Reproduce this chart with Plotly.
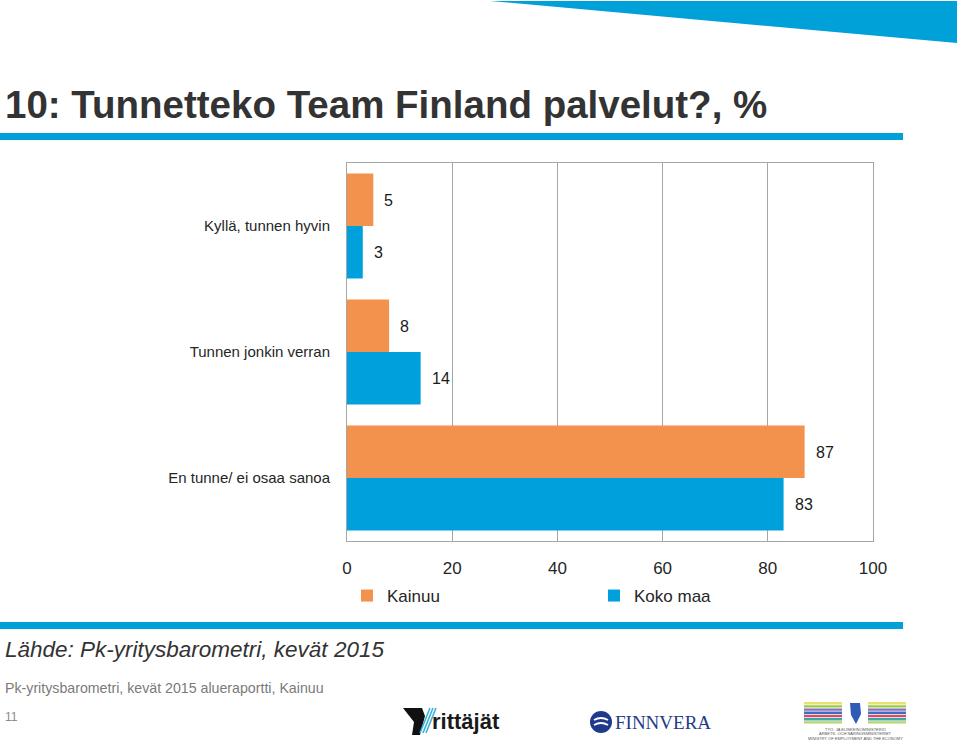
import plotly.graph_objects as go

# ---- data ----
categories = ["Kyllä, tunnen hyvin", "Tunnen jonkin verran", "En tunne/ ei osaa sanoa"]
kainuu = [5, 8, 87]
koko_maa = [3, 14, 83]
series_names = ["Kainuu", "Koko maa"]
x_ticks = [0, 20, 40, 60, 80, 100]

title_text = "10: Tunnetteko Team Finland palvelut?, %"
source_text = "Lähde: Pk-yritysbarometri, kevät 2015"
footer_text = "Pk-yritysbarometri, kevät 2015 alueraportti, Kainuu"
page_no = "11"

# ---- layout geometry ----
W, H = 960, 747
L, R, T, B = 347, 87, 163, 206
PW, PH = W - L - R, H - T - B

ORANGE = "#F2924C"
BLUE = "#00A0DC"
GRID = "#A6A6A6"
FONT = "Liberation Sans, Arial, sans-serif"


def px(x):
    return (x - L) / PW


def py(y):
    return (T + PH - y) / PH


fig = go.Figure()
fig.add_trace(go.Bar(y=categories, x=kainuu, orientation="h", name=series_names[0],
                     marker=dict(color=ORANGE, line=dict(width=0))))
fig.add_trace(go.Bar(y=categories, x=koko_maa, orientation="h", name=series_names[1],
                     marker=dict(color=BLUE, line=dict(width=0))))

annotations = []
# data labels
for vals, shift in ((kainuu, 26), (koko_maa, -26)):
    for c, v in zip(categories, vals):
        annotations.append(dict(x=v, y=c, xref="x", yref="y", text=str(v), showarrow=False,
                                xanchor="left", yanchor="middle", xshift=9, yshift=shift,
                                font=dict(family=FONT, size=16, color="#1a1a1a")))

# title
annotations.append(dict(xref="paper", yref="paper", x=px(3), y=py(105), text=f"<b>{title_text}</b>",
                        showarrow=False, xanchor="left", yanchor="middle",
                        font=dict(family=FONT, size=38.5, color="#333333")))
# source
annotations.append(dict(xref="paper", yref="paper", x=px(3), y=py(649), text=f"<i>{source_text}</i>",
                        showarrow=False, xanchor="left", yanchor="middle",
                        font=dict(family=FONT, size=22.5, color="#333333")))
annotations.append(dict(xref="paper", yref="paper", x=px(3), y=py(688), text=footer_text,
                        showarrow=False, xanchor="left", yanchor="middle",
                        font=dict(family=FONT, size=14.2, color="#7a7a7a")))
annotations.append(dict(xref="paper", yref="paper", x=px(3), y=py(717), text=page_no,
                        showarrow=False, xanchor="left", yanchor="middle",
                        font=dict(family=FONT, size=12, color="#8a8a8a")))

# logo texts
annotations.append(dict(xref="paper", yref="paper", x=px(430), y=py(721), text="<b>rittäjät</b>",
                        showarrow=False, xanchor="left", yanchor="middle",
                        font=dict(family=FONT, size=22, color="#1a1a1a")))
annotations.append(dict(xref="paper", yref="paper", x=px(613), y=py(722), text="FINNVERA",
                        showarrow=False, xanchor="left", yanchor="middle",
                        font=dict(family="Liberation Serif, Times New Roman, serif", size=19, color="#1F3A8A")))
for i, t in enumerate(["TYÖ- JA ELINKEINOMINISTERIÖ", "ARBETS- OCH NÄRINGSMINISTERIET",
                       "MINISTRY OF EMPLOYMENT AND THE ECONOMY"]):
    annotations.append(dict(xref="paper", yref="paper", x=px(855), y=py(729 + i * 4.5), text=t,
                            showarrow=False, xanchor="center", yanchor="middle",
                            font=dict(family=FONT, size=4, color="#555555")))

shapes = []


def rect(x0, y0, x1, y1, color):
    shapes.append(dict(type="rect", xref="paper", yref="paper", x0=px(x0), x1=px(x1),
                       y0=py(y0), y1=py(y1), fillcolor=color, line=dict(width=0), layer="above"))


# top-right triangle
shapes.append(dict(type="path", xref="paper", yref="paper",
                   path=f"M{px(490)},{py(1)} L{px(957)},{py(1)} L{px(957)},{py(43)} Z",
                   fillcolor="#00A0D8", line=dict(width=0)))
# horizontal rules
rect(0, 133, 903, 140, "#00A0D8")
rect(0, 622, 903, 629, "#00A0D8")

# Yrittäjät logo mark
shapes.append(dict(type="path", xref="paper", yref="paper",
                   path=(f"M{px(403)},{py(708)} L{px(422)},{py(708)} L{px(425)},{py(716)} "
                         f"L{px(420)},{py(735)} L{px(412)},{py(735)} L{px(414)},{py(722)} Z"),
                   fillcolor="#111111", line=dict(width=0)))
for k in range(3):
    shapes.append(dict(type="line", xref="paper", yref="paper",
                       x0=px(420 + k * 3), y0=py(733), x1=px(430 + k * 3), y1=py(708),
                       line=dict(color="#3BB3D6", width=1.6)))

# Finnvera circle
shapes.append(dict(type="circle", xref="paper", yref="paper", x0=px(590), x1=px(612),
                   y0=py(711), y1=py(733), fillcolor="#1F3A8A", line=dict(width=0)))
shapes.append(dict(type="path", xref="paper", yref="paper",
                   path=f"M{px(594)},{py(720)} Q{px(601)},{py(716)} {px(608)},{py(720)}",
                   line=dict(color="white", width=2)))
shapes.append(dict(type="path", xref="paper", yref="paper",
                   path=f"M{px(594)},{py(725)} Q{px(601)},{py(721)} {px(608)},{py(725)}",
                   line=dict(color="white", width=2)))

# ministry stripes
stripe_cols = ["#E8E070", "#9BC94B", "#8A6FB5", "#3A6FC4", "#D64B6B", "#3AA9A0", "#B8D36A"]
for i, c in enumerate(stripe_cols):
    y = 702 + i * 3.2
    rect(804, y, 842, y + 2.4, c)
    rect(868, y, 906, y + 2.4, c)
shapes.append(dict(type="path", xref="paper", yref="paper",
                   path=(f"M{px(850)},{py(703)} L{px(860)},{py(703)} L{px(861)},{py(714)} "
                         f"L{px(856)},{py(724)} L{px(851)},{py(715)} Z"),
                   fillcolor="#2E5BB8", line=dict(width=0)))

fig.update_layout(
    width=W, height=H,
    margin=dict(l=L, r=R, t=T, b=B),
    paper_bgcolor="white", plot_bgcolor="white",
    barmode="group", bargap=0.167, bargroupgap=0,
    font=dict(family=FONT, color="#262626"),
    showlegend=True,
    legend=dict(orientation="h", x=0.0, xanchor="left", y=py(596), yanchor="middle",
                entrywidth=202, entrywidthmode="pixels", itemwidth=30,
                font=dict(family=FONT, size=17, color="#262626"),
                bgcolor="rgba(0,0,0,0)"),
    xaxis=dict(range=[0, 100], tickvals=x_ticks, ticktext=[str(v) for v in x_ticks],
               showgrid=True, gridcolor=GRID, gridwidth=1, zeroline=False,
               showline=True, linecolor=GRID, linewidth=1, mirror=True,
               ticks="", ticklabelstandoff=12,
               tickfont=dict(family=FONT, size=17, color="#262626")),
    yaxis=dict(autorange="reversed", showgrid=False, zeroline=False,
               showline=True, linecolor=GRID, linewidth=1, mirror=True,
               ticks="", ticklabelstandoff=13,
               tickfont=dict(family=FONT, size=15, color="#262626")),
    annotations=annotations,
    shapes=shapes,
)

fig.write_html("out.html", config={"displayModeBar": False},
               post_script="document.body.style.margin='0';document.body.style.padding='0';")
